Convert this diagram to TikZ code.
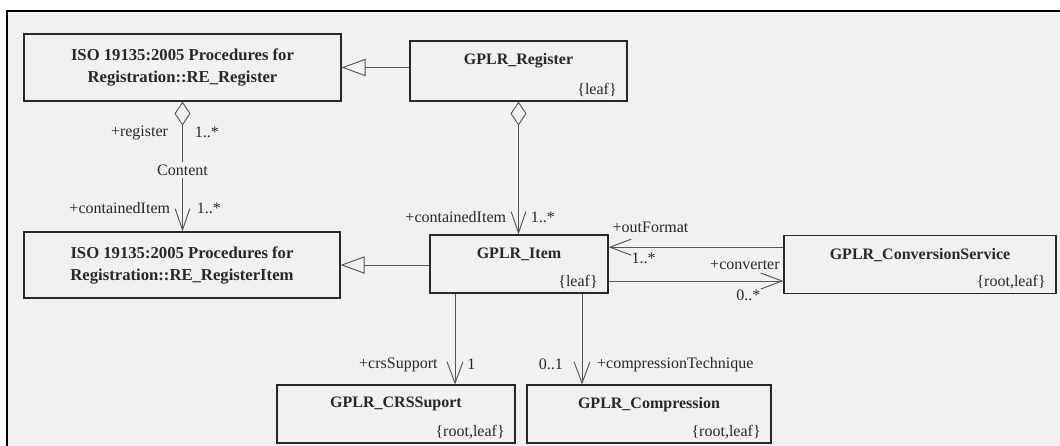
\documentclass[tikz,border=0pt]{standalone}
\usepackage{fontspec}
\setmainfont{Liberation Serif}
\usetikzlibrary{arrows.meta, positioning}
\definecolor{Paper}{RGB}{242, 240, 242}
\definecolor{Ink}{RGB}{40, 40, 40}
\definecolor{Wire}{RGB}{85, 85, 85}

\begin{document}
\begin{tikzpicture}[
    x=0.75pt, y=-0.75pt,
    every node/.style={align=center, text=Ink},
    cls/.style={draw=Ink, line width=0.9pt, fill=Paper, minimum height=43.5pt, inner sep=0pt},
    isocls/.style={cls, font=\bfseries\fontsize{12.5}{16.5}\selectfont},
    clsname/.style={label={[font=\bfseries\fontsize{12}{14}\selectfont, anchor=center, yshift=-15pt, inner sep=0pt]north:#1}},
    clstag/.style={label={[font=\fontsize{12}{14}\selectfont, anchor=east, xshift=-8pt, yshift=9pt, inner sep=0pt]south east:\{#1\}}},
    gen/.style={draw=Wire, line width=0.7pt, -{Triangle[open, length=18pt, width=13pt]}},
    assoc/.style={draw=Wire, line width=0.7pt, -{Straight Barb[length=16pt, width=12pt]}},
    agg/.style={assoc, {Diamond[open, length=18pt, width=12pt]}-{Straight Barb[length=16pt, width=11pt]}},
    role/.style={font=\fontsize{12}{14}\selectfont, inner sep=0pt}
  ]
  \useasboundingbox (0,0) rectangle (1060,446);
  \fill[white] (0,0) rectangle (1060,446);
  \fill[Paper] (7,11) rectangle (1060,446);
  \draw[black, line width=1.5pt] (7,446) -- (7,11) -- (1060,11);

  % classes
  \node[isocls, minimum width=237.75pt, minimum height=50.25pt] (reReg) at (182.5,67.5) {ISO 19135:2005 Procedures for\\Registration::RE\_Register};
  \node[isocls, minimum width=237pt, minimum height=49.5pt] (reItem) at (182,265) {ISO 19135:2005 Procedures for\\Registration::RE\_RegisterItem};
  \node[cls, minimum width=162.75pt, minimum height=45pt, clsname=GPLR\_Register, clstag=leaf] (gplrReg) at (518.5,71) {};
  \node[cls, minimum width=133.5pt, clsname=GPLR\_Item, clstag=leaf] (gplrItem) at (519,264) {};
  \node[cls, minimum width=204pt, clsname=GPLR\_ConversionService, clstag={root,leaf}] (convSrv) at (920,264.5) {};
  \node[cls, minimum width=178.5pt, clsname=GPLR\_CRSSuport, clstag={root,leaf}] (crsSup) at (396,414) {};
  \node[cls, minimum width=183pt, clsname=GPLR\_Compression, clstag={root,leaf}] (compr) at (649,414) {};

  % generalisation
  \draw[gen] (gplrReg.west |- reReg.east) -- (reReg.east);
  \draw[gen] (gplrItem.west |- reItem.east) -- (reItem.east);

  % aggregation
  \draw[agg] (reReg.south) -- (reReg.south |- reItem.north)
    node[role, pos=.24, anchor=east, xshift=-10.5pt] {+register}
    node[role, pos=.24, anchor=west, xshift=9pt] {1..*}
    node[role, pos=.53, fill=Paper, inner sep=2pt] {Content}
    node[role, pos=.82, anchor=east, xshift=-9pt] {+containedItem}
    node[role, pos=.82, anchor=west, xshift=10.5pt] {1..*};
  \draw[agg] (gplrReg.south) -- (gplrReg.south |- gplrItem.north)
    node[role, pos=.87, anchor=east, xshift=-9pt] {+containedItem}
    node[role, pos=.87, anchor=west, xshift=9pt] {1..*};

  % conversion service
  \draw[assoc] ([yshift=13pt]convSrv.west) -- ([yshift=13pt]convSrv.west -| gplrItem.east)
    node[role, pos=.76, yshift=15pt] {+outFormat}
    node[role, pos=.8, yshift=-8.5pt] {1..*};
  \draw[assoc] ([yshift=-12.75pt]gplrItem.east) -- ([yshift=-12.75pt]gplrItem.east -| convSrv.west)
    node[role, pos=.78, yshift=12pt] {+converter}
    node[role, pos=.8, yshift=-10.5pt] {0..*};

  % crs support, compression
  \draw[assoc] ([xshift=-48pt]gplrItem.south) -- ([xshift=-48pt]gplrItem.south |- crsSup.north)
    node[role, pos=.78, anchor=east, xshift=-12.75pt] {+crsSupport}
    node[role, pos=.78, anchor=west, xshift=9pt] {1};
  \draw[assoc] ([xshift=47.25pt]gplrItem.south) -- ([xshift=47.25pt]gplrItem.south |- compr.north)
    node[role, pos=.78, anchor=east, xshift=-14pt] {0..1}
    node[role, pos=.78, anchor=west, xshift=11pt] {+compressionTechnique};
\end{tikzpicture}
\end{document}
